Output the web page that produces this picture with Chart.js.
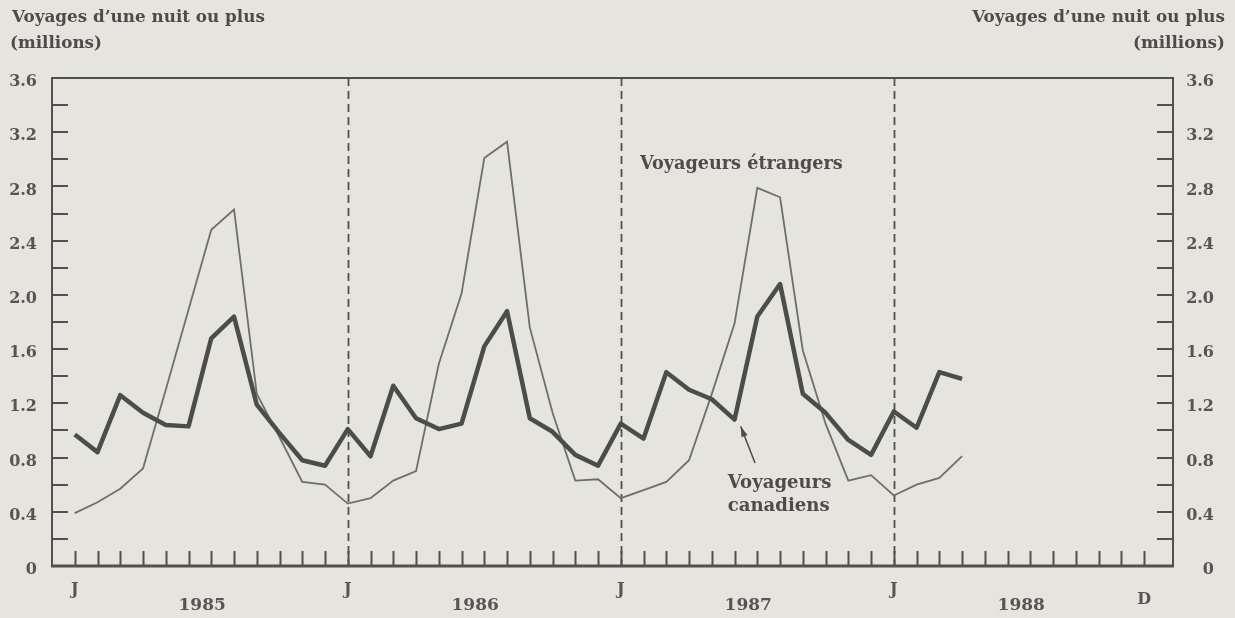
<!DOCTYPE html>
<html><head><meta charset="utf-8">
<script src="https://cdn.jsdelivr.net/npm/chart.js@4"></script>
<style>html,body{margin:0;padding:0;background:#e6e4de;}canvas{display:block;}</style>
</head><body>
<canvas id="c" width="1235" height="618"></canvas>
<script>
// ---- data ----
const years = ['1985', '1986', '1987', '1988'];
const months = ['J', 'F', 'M', 'A', 'M', 'J', 'J', 'A', 'S', 'O', 'N', 'D'];
// Voyageurs canadiens, Jan 1985 - Apr 1988 (millions)
const canadiens = [
  0.97, 0.84, 1.26, 1.13, 1.04, 1.03, 1.68, 1.84, 1.19, 0.98, 0.78, 0.74,
  1.01, 0.81, 1.33, 1.09, 1.01, 1.05, 1.62, 1.88, 1.09, 0.99, 0.82, 0.74,
  1.05, 0.94, 1.43, 1.30, 1.23, 1.08, 1.84, 2.08, 1.27, 1.13, 0.93, 0.82,
  1.14, 1.02, 1.43, 1.38
];
// Voyageurs étrangers, Jan 1985 - Apr 1988 (millions)
const etrangers = [
  0.39, 0.47, 0.57, 0.72, 1.30, 1.89, 2.48, 2.63, 1.27, 0.95, 0.62, 0.60,
  0.46, 0.50, 0.63, 0.70, 1.49, 2.01, 3.01, 3.13, 1.76, 1.13, 0.63, 0.64,
  0.50, 0.56, 0.62, 0.78, 1.27, 1.79, 2.79, 2.72, 1.59, 1.05, 0.63, 0.67,
  0.52, 0.60, 0.65, 0.81
];
const yTickValues = [0, 0.4, 0.8, 1.2, 1.6, 2.0, 2.4, 2.8, 3.2, 3.6];
const yTickLabels = ['0', '0.4', '0.8', '1.2', '1.6', '2.0', '2.4', '2.8', '3.2', '3.6'];
const xTickIndex = [0, 12, 24, 36, 47];
const xTickLabels = ['J', 'J', 'J', 'J', 'D'];
const axisTitle = ["Voyages d\u2019une nuit ou plus", '(millions)'];
const labelEtrangers = 'Voyageurs \u00e9trangers';
const labelCanadiens = ['Voyageurs', 'canadiens'];

const BG = '#e6e4de';
const INK = '#4f514d';
const TXT = '#555652';
const SERIF = '"DejaVu Serif", "Liberation Serif", serif';

function fitFont(ctx, text, width, weight) {
  ctx.font = weight + ' 100px ' + SERIF;
  const w = ctx.measureText(text).width;
  return weight + ' ' + (100 * width / w).toFixed(2) + 'px ' + SERIF;
}

const deco = {
  id: 'deco',
  beforeDraw(chart) {
    const ctx = chart.ctx;
    ctx.save();
    ctx.fillStyle = BG;
    ctx.fillRect(0, 0, chart.width, chart.height);
    ctx.restore();
  },
  beforeDatasetsDraw(chart) {
    const {ctx, chartArea: a, scales: {x}} = chart;
    ctx.save();
    ctx.strokeStyle = INK;
    ctx.lineWidth = 1.8;
    ctx.setLineDash([8, 5]);
    [12, 24, 36].forEach(i => {
      const px = Math.round(x.getPixelForValue(i)) + 0.5;
      ctx.beginPath();
      ctx.moveTo(px, a.top);
      ctx.lineTo(px, a.bottom);
      ctx.stroke();
    });
    ctx.restore();
  },
  afterDatasetsDraw(chart) {
    const {ctx, chartArea: a, scales: {x, y}} = chart;
    ctx.save();
    ctx.strokeStyle = INK;
    ctx.setLineDash([]);
    // frame
    ctx.lineWidth = 2;
    ctx.strokeRect(a.left, a.top, a.right - a.left, a.bottom - a.top);
    ctx.lineWidth = 3;
    ctx.beginPath();
    ctx.moveTo(a.left - 1, a.bottom);
    ctx.lineTo(a.right + 1, a.bottom);
    ctx.stroke();
    // y ticks every 0.2, both sides
    ctx.lineWidth = 2;
    for (let k = 1; k < 18; k++) {
      const py = Math.round(y.getPixelForValue(k * 0.2));
      ctx.beginPath();
      ctx.moveTo(a.left, py); ctx.lineTo(a.left + 16, py);
      ctx.moveTo(a.right, py); ctx.lineTo(a.right - 16, py);
      ctx.stroke();
    }
    // x ticks each month
    for (let i = 0; i < years.length * months.length; i++) {
      const px = Math.round(x.getPixelForValue(i)) + 0.5;
      ctx.beginPath();
      ctx.moveTo(px, a.bottom); ctx.lineTo(px, a.bottom - 15);
      ctx.stroke();
    }
    // y tick labels
    ctx.fillStyle = TXT;
    ctx.font = 'bold 16px ' + SERIF;
    ctx.textBaseline = 'middle';
    yTickValues.forEach((v, k) => {
      const py = y.getPixelForValue(v) + 4;
      ctx.textAlign = 'right';
      ctx.fillText(yTickLabels[k], 37, py);
      ctx.fillText(yTickLabels[k], 1214, py);
    });
    // x labels
    ctx.textAlign = 'center';
    ctx.font = 'bold 16px ' + SERIF;
    xTickIndex.forEach((i, k) => {
      ctx.fillText(xTickLabels[k], x.getPixelForValue(i), xTickLabels[k] === 'D' ? 600 : 590);
    });
    ctx.font = 'bold 17px ' + SERIF;
    years.forEach((yr, k) => {
      ctx.fillText(yr, x.getPixelForValue(5.6 + 12 * k), 606);
    });
    // axis titles
    ctx.fillStyle = '#4c4d49';
    ctx.font = fitFont(ctx, axisTitle[0], 253, 'bold');
    ctx.textAlign = 'left';
    ctx.fillText(axisTitle[0], 12, 18);
    ctx.fillText(axisTitle[1], 10, 44);
    ctx.textAlign = 'right';
    ctx.fillText(axisTitle[0], 1225, 18);
    ctx.fillText(axisTitle[1], 1225, 44);
    // annotations
    ctx.font = fitFont(ctx, labelEtrangers, 203, 'bold');
    ctx.textAlign = 'center';
    ctx.fillText(labelEtrangers, x.getPixelForValue(29.3), y.getPixelForValue(2.96));
    ctx.font = fitFont(ctx, labelCanadiens[1], 102, 'bold');
    ctx.textAlign = 'left';
    ctx.fillText(labelCanadiens[0], x.getPixelForValue(28.7), y.getPixelForValue(0.61));
    ctx.fillText(labelCanadiens[1], x.getPixelForValue(28.7), y.getPixelForValue(0.44));
    // arrow
    const x0 = x.getPixelForValue(29.9), y0 = y.getPixelForValue(0.76);
    const x1 = x.getPixelForValue(29.27), y1 = y.getPixelForValue(1.03);
    ctx.strokeStyle = '#4c4d49';
    ctx.lineWidth = 1.5;
    ctx.beginPath(); ctx.moveTo(x0, y0); ctx.lineTo(x1, y1); ctx.stroke();
    const ang = Math.atan2(y1 - y0, x1 - x0);
    ctx.fillStyle = '#4c4d49';
    ctx.beginPath();
    ctx.moveTo(x1, y1);
    ctx.lineTo(x1 - 11 * Math.cos(ang - 0.3), y1 - 11 * Math.sin(ang - 0.3));
    ctx.lineTo(x1 - 11 * Math.cos(ang + 0.3), y1 - 11 * Math.sin(ang + 0.3));
    ctx.closePath(); ctx.fill();
    ctx.restore();
  }
};

new Chart(document.getElementById('c'), {
  type: 'line',
  data: {
    datasets: [
      {
        label: 'Voyageurs canadiens',
        data: canadiens.map((v, i) => ({x: i, y: v})),
        borderColor: '#4a4e48',
        borderWidth: 4.5,
        pointRadius: 0,
        tension: 0,
        borderJoinStyle: 'round'
      },
      {
        label: 'Voyageurs \u00e9trangers',
        data: etrangers.map((v, i) => ({x: i, y: v})),
        borderColor: '#6c706a',
        borderWidth: 1.8,
        pointRadius: 0,
        tension: 0
      }
    ]
  },
  options: {
    responsive: false,
    animation: false,
    devicePixelRatio: 1,
    layout: {padding: {left: 52, right: 62, top: 78, bottom: 52}},
    scales: {
      x: {type: 'linear', display: false, min: -1, max: 48.27},
      y: {type: 'linear', display: false, min: 0, max: 3.6}
    },
    plugins: {legend: {display: false}, tooltip: {enabled: false}}
  },
  plugins: [deco]
});
</script>
</body></html>
